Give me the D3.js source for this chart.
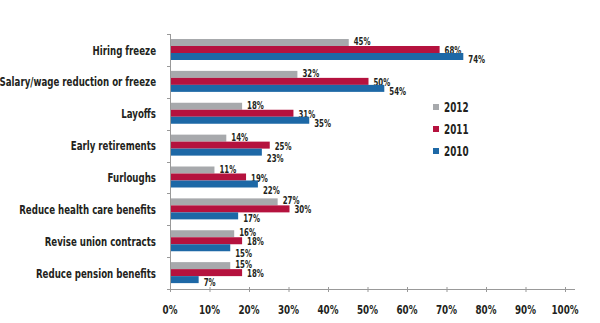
<!DOCTYPE html>
<html>
<head>
<meta charset="utf-8">
<script src="https://cdn.jsdelivr.net/npm/d3@7"></script>
<style>
  body { margin: 0; background: #fff; }
  text { font-family: "DejaVu Sans", sans-serif; font-stretch: condensed; font-weight: bold; fill: #231f20; }
</style>
</head>
<body>
<div id="chart"></div>
<script>
// measures taken, one entry per category
var categories = ["Hiring freeze", "Salary/wage reduction or freeze", "Layoffs", "Early retirements",
                  "Furloughs", "Reduce health care benefits", "Revise union contracts", "Reduce pension benefits"];
var years = ["2012", "2011", "2010"];
var values2012 = [45, 32, 18, 14, 11, 27, 16, 15];
var values2011 = [68, 50, 31, 25, 19, 30, 18, 18];
var values2010 = [74, 54, 35, 23, 22, 17, 15, 7];
var xTicks = [0, 10, 20, 30, 40, 50, 60, 70, 80, 90, 100];

var series = {"2012": values2012, "2011": values2011, "2010": values2010};
var colors = {"2012": "#a7a9ac", "2011": "#b5123e", "2010": "#1d68a6"};
// labels sit a little off the bar centre, as in the printed chart
var labelShift = {"2012": -1, "2011": 1, "2010": 3};

var margin = {top: 34, right: 35, bottom: 34, left: 170},
    width = 600 - margin.left - margin.right,
    height = 323 - margin.top - margin.bottom;

var svg = d3.select("#chart")
  .append("svg")
    .attr("width", 600)
    .attr("height", 323)
  .append("g")
    .attr("transform", "translate(" + margin.left + "," + margin.top + ")");

// squeezed text: the typeface is narrower than anything installed
function narrow(sel, px, py, sx) {
  return sel.attr("transform", function(d, i) {
    var tx = typeof px === "function" ? px(d, i) : px;
    var ty = typeof py === "function" ? py(d, i) : py;
    return "translate(" + tx + "," + ty + ") scale(" + sx + ",1)";
  });
}

var x = d3.scaleLinear().domain([0, 100]).range([0, 395]);

var y = d3.scaleBand().domain(categories).range([0, height]);

var inner = d3.scaleBand().domain(years).range([5, 26]);

// bars
categories.forEach(function(cat, i) {
  var g = svg.append("g").attr("transform", "translate(0," + y(cat) + ")");
  years.forEach(function(yr) {
    var v = series[yr][i];
    var shift = labelShift[yr];
    // nudge the 2010 label down when it would collide with the 2011 one
    if (yr === "2010" && Math.abs(values2011[i] - v) <= 3) shift += 3;
    g.append("rect")
      .attr("x", x(0) + 1)
      .attr("y", inner(yr))
      .attr("width", x(v) - x(0))
      .attr("height", inner.bandwidth())
      .style("fill", colors[yr]);
    narrow(g.append("text"), x(v) + 6, inner(yr) + inner.bandwidth() / 2 + shift, 0.78)
      .attr("dy", "0.35em")
      .style("font-size", "10px")
      .text(v + "%");
  });
});

// category axis
var yAxis = svg.append("g");
yAxis.append("line")
  .attr("x1", 0.5).attr("x2", 0.5)
  .attr("y1", 0).attr("y2", height)
  .style("stroke", "#999");
yAxis.selectAll(".ytick")
  .data(d3.range(categories.length + 1))
  .enter()
  .append("line")
    .attr("x1", -3).attr("x2", 0.5)
    .attr("y1", function(d) { return Math.round(d * y.step()) + 0.5; })
    .attr("y2", function(d) { return Math.round(d * y.step()) + 0.5; })
    .style("stroke", "#999");
narrow(yAxis.selectAll(".cat")
  .data(categories)
  .enter()
  .append("text"), -14, function(d) { return y(d) + y.bandwidth() / 2; }, 0.74)
    .attr("dy", "0.35em")
    .attr("text-anchor", "end")
    .style("font-size", "13px")
    .text(function(d) { return d; });

// value axis
var xAxis = svg.append("g").attr("transform", "translate(0," + height + ")");
xAxis.append("line")
  .attr("x1", 0).attr("x2", 405)
  .attr("y1", 0.5).attr("y2", 0.5)
  .style("stroke", "#999");
xAxis.selectAll(".xtick")
  .data(xTicks)
  .enter()
  .append("line")
    .attr("x1", function(d) { return x(d) + 0.5; })
    .attr("x2", function(d) { return x(d) + 0.5; })
    .attr("y1", -2).attr("y2", 3)
    .style("stroke", "#999");
narrow(xAxis.selectAll(".xlab")
  .data(xTicks)
  .enter()
  .append("text"), function(d) { return x(d); }, 20, 0.75)
    .attr("dy", "0.35em")
    .attr("text-anchor", "middle")
    .style("font-size", "13px")
    .text(function(d) { return d + "%"; });

// legend
var legend = svg.append("g").attr("transform", "translate(263,73)");
years.forEach(function(yr, i) {
  legend.append("rect")
    .attr("x", 0)
    .attr("y", i * 22 - 3)
    .attr("width", 6)
    .attr("height", 6)
    .style("fill", colors[yr]);
  narrow(legend.append("text"), 11, i * 22, 0.7)
    .attr("dy", "0.35em")
    .style("font-size", "14px")
    .text(yr);
});
</script>
</body>
</html>
